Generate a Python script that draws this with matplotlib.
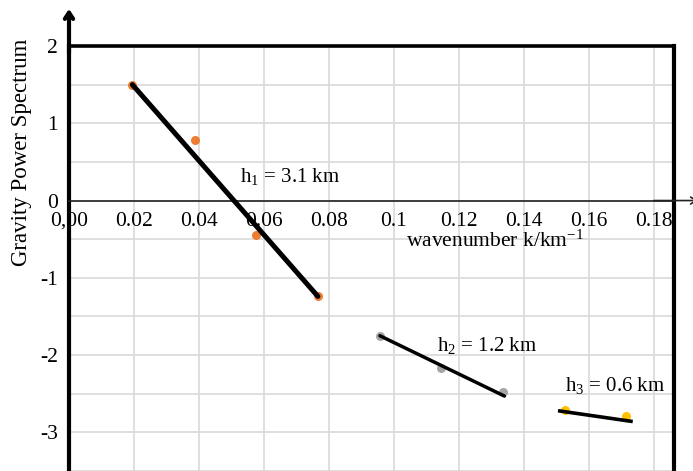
import matplotlib
matplotlib.use("Agg")
import matplotlib.pyplot as plt
import numpy as np

plt.rcParams['font.family'] = ['Liberation Serif', 'DejaVu Serif']
plt.rcParams['mathtext.fontset'] = 'custom'
plt.rcParams['mathtext.rm'] = 'Liberation Serif'
plt.rcParams['mathtext.it'] = 'Liberation Serif:italic'

# Data
k_orange = [0.0195, 0.0388, 0.0575, 0.0766]
p_orange = [1.50, 0.79, -0.45, -1.24]
k_gray = [0.0957, 0.1145, 0.1335]
p_gray = [-1.75, -2.17, -2.48]
k_yellow = [0.1526, 0.1714]
p_yellow = [-2.71, -2.79]

fit1_k = [0.0195, 0.0766]
fit1_p = [1.50, -1.24]
fit2_k = [0.0957, 0.1340]
fit2_p = [-1.75, -2.53]
fit3_k = [0.1505, 0.1735]
fit3_p = [-2.72, -2.86]

xtick_vals = [0.0, 0.02, 0.04, 0.06, 0.08, 0.10, 0.12, 0.14, 0.16, 0.18]
xtick_labels = ["0,00", "0.02", "0.04", "0.06", "0.08", "0.1", "0.12", "0.14", "0.16", "0.18"]
ytick_vals = [-3, -2, -1, 0, 1, 2]
ytick_labels = ["-3", "-2", "-1", "0", "1", "2"]
depth_labels = [r"h$_{1}$ = 3.1 km", r"h$_{2}$ = 1.2 km", r"h$_{3}$ = 0.6 km"]

fig = plt.figure(figsize=(6.93, 4.71), dpi=100)
ax = fig.add_axes([69/693, 0, (674-69)/693, 1-46/471])
ax.set_xlim(0, 0.1862)
ax.set_ylim(-3.484, 2)

for s in ['left', 'right']:
    ax.spines[s].set_linewidth(3)
    ax.spines[s].set_color('black')
ax.spines['top'].set_linewidth(2.6)
ax.spines['bottom'].set_position(('data', 0))
ax.spines['bottom'].set_linewidth(1.2)
ax.spines['bottom'].set_color('#222222')

# grid / ticks
ax.set_axisbelow(True)
ax.set_xticks(xtick_vals)
ax.set_xticklabels(xtick_labels)
ax.set_yticks(ytick_vals)
ax.set_yticklabels(ytick_labels)
ax.set_yticks(np.arange(-3.5, 2.0, 0.5), minor=True)
ax.grid(which='major', color='#d9d9d9', lw=1.2)
ax.grid(which='minor', axis='y', color='#d9d9d9', lw=1.2)
ax.tick_params(which='both', length=0, labelsize=15.5)
ax.tick_params(axis='y', pad=8)
ax.tick_params(axis='x', pad=8)

# axis arrows
ax.annotate('', xy=(0, 2.48), xytext=(0, 1.9), xycoords='data',
            arrowprops=dict(arrowstyle='->,head_length=0.45,head_width=0.3', lw=3,
                            color='black', shrinkA=0, shrinkB=0),
            annotation_clip=False)
ax.annotate('', xy=(0.1935, 0), xytext=(0.18, 0), xycoords='data',
            arrowprops=dict(arrowstyle='->,head_length=0.4,head_width=0.25', lw=1.2,
                            color='#222222', shrinkA=0, shrinkB=0),
            annotation_clip=False)

# points
ax.scatter(k_orange, p_orange, s=42, color='#ED7D31', zorder=3, linewidths=0)
ax.scatter(k_gray, p_gray, s=42, color='#A5A5A5', zorder=3, linewidths=0)
ax.scatter(k_yellow, p_yellow, s=42, color='#FFC000', zorder=3, linewidths=0)

# fit lines
ax.plot(fit1_k, fit1_p, color='black', lw=3.6, zorder=4, solid_capstyle='round')
ax.plot(fit2_k, fit2_p, color='black', lw=2.5, zorder=4, solid_capstyle='round')
ax.plot(fit3_k, fit3_p, color='black', lw=2.6, zorder=4, solid_capstyle='butt')

# annotations
ax.text(0.0526, 0.31, depth_labels[0], fontsize=15, va='center', ha='left')
ax.text(0.1132, -1.88, depth_labels[1], fontsize=15, va='center', ha='left')
ax.text(0.1526, -2.40, depth_labels[2], fontsize=15, va='center', ha='left')

ax.text(0.131, -0.53, r"wavenumber k/km$^{\mathregular{-1}}$", fontsize=15.5, va='center', ha='center')
fig.text(22/693, 1-152/471, "Gravity Power Spectrum", rotation=90, fontsize=16.5,
         va='center', ha='center')

fig.savefig("out.png", dpi=100)
